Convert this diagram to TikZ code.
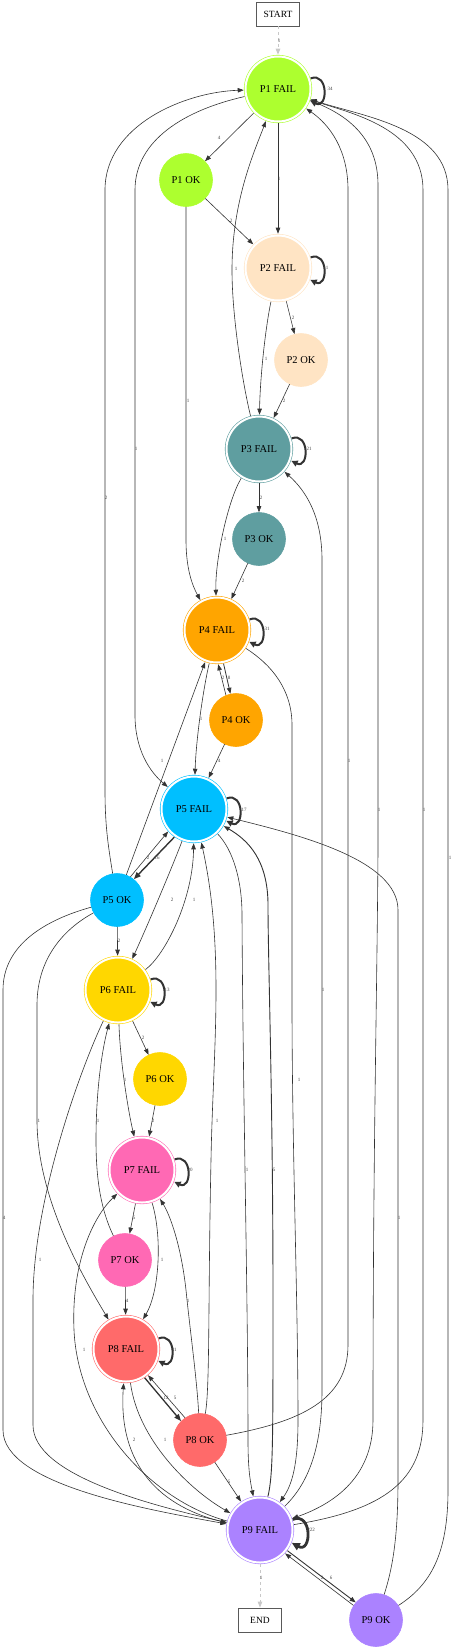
\documentclass[tikz,border=0pt]{standalone}
\usepackage{fontspec}
\setmainfont{Liberation Serif}
\usetikzlibrary{arrows.meta}
\definecolor{cpa}{HTML}{ADFF2F}
\definecolor{cpb}{HTML}{FFE4C4}
\definecolor{cpc}{HTML}{5F9EA0}
\definecolor{cpd}{HTML}{FFA500}
\definecolor{cpe}{HTML}{00BFFF}
\definecolor{cpf}{HTML}{FFD700}
\definecolor{cpg}{HTML}{FF69B4}
\definecolor{cph}{HTML}{FF6A6A}
\definecolor{cpi}{HTML}{AB82FF}
\definecolor{ecol}{HTML}{333333}
\definecolor{lcol}{HTML}{444444}
\definecolor{dcol}{HTML}{C8C8C8}
\newcommand{\mynodefont}{\fontsize{10.5}{12}\selectfont}
\newcommand{\myboxfont}{\fontsize{9.5}{11}\selectfont}
\newcommand{\mylblfont}{\fontsize{5}{6}\selectfont}
\tikzset{
  fail/.style={circle, minimum size=65pt, inner sep=0pt, outer sep=1.8pt, draw=#1, fill=#1,
    line width=0.6pt, double=white, double distance=2pt, font=\mynodefont},
  okn/.style={circle, minimum size=53pt, inner sep=0pt, draw=#1, fill=#1, line width=0.6pt, font=\mynodefont},
  term/.style={rectangle, draw=black!65, line width=0.8pt, minimum width=43pt, minimum height=24pt,
    inner sep=0pt, font=\myboxfont},
  conn/.style={draw=ecol, line width=0.6pt, -{Triangle[length=6pt,width=4.5pt]}},
  loopy/.style={draw=ecol, line width=2pt, -{Triangle[length=6.5pt,width=6pt]}},
  dashconn/.style={draw=dcol, dashed, line width=0.9pt, -{Triangle[length=6pt,width=4.5pt]}},
  lbl/.style={font=\mylblfont, text=lcol, inner sep=0.3pt},
}
\begin{document}
\begin{tikzpicture}[x=1pt,y=-1pt]
\useasboundingbox (0,0) rectangle (455,1650);

% nodes
\node[term] (start) at (278,14) {START};
\node[fail=cpa] (p1f) at (278,89) {P1 FAIL};
\node[okn=cpa] (p1o) at (186,180) {P1 OK};
\node[fail=cpb] (p2f) at (278,268) {P2 FAIL};
\node[okn=cpb] (p2o) at (301,360) {P2 OK};
\node[fail=cpc] (p3f) at (259,449) {P3 FAIL};
\node[okn=cpc] (p3o) at (259,539) {P3 OK};
\node[fail=cpd] (p4f) at (217,630) {P4 FAIL};
\node[okn=cpd] (p4o) at (236,720) {P4 OK};
\node[fail=cpe] (p5f) at (194,809) {P5 FAIL};
\node[okn=cpe] (p5o) at (117,900) {P5 OK};
\node[fail=cpf] (p6f) at (118,990) {P6 FAIL};
\node[okn=cpf] (p6o) at (160,1079) {P6 OK};
\node[fail=cpg] (p7f) at (142,1170) {P7 FAIL};
\node[okn=cpg] (p7o) at (125,1260) {P7 OK};
\node[fail=cph] (p8f) at (126,1349) {P8 FAIL};
\node[okn=cph] (p8o) at (200,1440) {P8 OK};
\node[fail=cpi] (p9f) at (260,1530) {P9 FAIL};
\node[okn=cpi] (p9o) at (376,1620) {P9 OK};
\node[term] (end) at (260,1620) {END};

% start / end
\draw[dashconn] (start) -- (p1f);
\draw[dashconn] (p9f) -- (end);

% P1
\draw[conn] (p1f) -- (p1o);
\draw[conn] (p1f) -- (p2f);
\draw[conn] (p1o) -- (p2f);
\draw[conn] (p1o) -- (186,540) .. controls (186,568) and (192,585) .. (p4f);

% P2
\draw[conn] (p2f) -- (p2o);
\draw[conn] (p2f) .. controls (265,330) and (260,380) .. (p3f);
\draw[conn] (p2o) -- (p3f);

% P3
\draw[conn] (p3f) .. controls (244,390) and (232,320) .. (232,270) .. controls (232,200) and (255,150) .. (p1f);
\draw[conn] (p3f) -- (p3o);
\draw[conn] (p3f) .. controls (228,500) and (215,560) .. (p4f);
\draw[conn] (p3o) -- (p4f);
\draw[conn] (p9f) .. controls (312,1480) and (322,1440) .. (322,1390) -- (322,560) .. controls (322,515) and (305,490) .. (p3f);

% P4
\draw[conn] (p4o.112) -- (p4f.272);
\draw[conn, line width=0.8pt] (p4f.281) -- (p4o.102);
\draw[conn] (p4f) .. controls (203,690) and (196,740) .. (p5f);
\draw[conn] (p4o) -- (p5f);
\draw[conn] (p4f) .. controls (272,665) and (292,690) .. (292,725) -- (292,1000) .. controls (292,1150) and (298,1300) .. (298,1420) .. controls (298,1465) and (292,1485) .. (p9f);

% P5
\draw[conn, line width=1.4pt, -{Triangle[length=7pt,width=5.5pt]}] (p5f.235) -- (p5o.51);
\draw[conn] (p5o.60) -- (p5f.221);
\draw[conn] (p1f) .. controls (185,110) and (135,140) .. (135,190) -- (135,715) .. controls (135,750) and (150,772) .. (p5f);
\draw[conn] (p5o) .. controls (108,845) and (105,825) .. (105,790) -- (105,190) .. controls (105,125) and (185,92) .. (p1f);
\draw[conn] (p5o) -- (p4f);
\draw[conn] (p5f) .. controls (175,860) and (150,920) .. (p6f);
\draw[conn] (p6f) .. controls (165,955) and (193,900) .. (p5f);
\draw[conn] (p5o) -- (p6f);
\draw[conn] (p5o) .. controls (45,920) and (3,945) .. (3,990) -- (3,1430) .. controls (3,1485) and (150,1510) .. (p9f);
\draw[conn] (p5o) .. controls (62,930) and (37,960) .. (37,1005) -- (37,1120) .. controls (37,1200) and (85,1280) .. (p8f);
\draw[conn] (p5f) .. controls (233,850) and (242,880) .. (242,915) .. controls (243,1100) and (248,1300) .. (248,1440) .. controls (248,1468) and (250,1480) .. (p9f);
\draw[conn, line width=0.9pt] (p9f) .. controls (273,1475) and (273,1445) .. (273,1300) .. controls (273,1100) and (268,960) .. (268,905) .. controls (268,860) and (248,840) .. (p5f);
\draw[conn] (p9o) .. controls (392,1570) and (398,1540) .. (398,1480) -- (398,910) .. controls (398,860) and (300,835) .. (p5f);
\draw[conn] (p8o) .. controls (210,1390) and (208,1300) .. (211,1160) .. controls (213,1050) and (225,950) .. (p5f);

% P6
\draw[conn] (p6f) -- (p6o);
\draw[conn] (p6f) .. controls (120,1060) and (128,1110) .. (p7f);
\draw[conn] (p6o) -- (p7f.78);
\draw[conn] (p6f) .. controls (80,1070) and (33,1200) .. (33,1300) -- (33,1425) .. controls (33,1475) and (150,1505) .. (p9f);
\draw[conn] (p7o) .. controls (101,1210) and (96,1180) .. (96,1140) .. controls (96,1090) and (102,1050) .. (p6f);

% P7
\draw[conn] (p7f) -- (p7o.80);
\draw[conn] (p7f) .. controls (162,1235) and (160,1290) .. (p8f);
\draw[conn] (p7o) -- (p8f);
\draw[conn] (p9f) .. controls (150,1500) and (78,1420) .. (74,1330) .. controls (71,1260) and (95,1215) .. (p7f);
\draw[conn] (p8o) .. controls (197,1380) and (190,1330) .. (186,1290) .. controls (181,1245) and (170,1215) .. (p7f);

% P8
\draw[conn, line width=1.3pt, -{Triangle[length=7pt,width=5.5pt]}] (p8f.303) -- (p8o.135);
\draw[conn] (p8o.124) -- (p8f.310);
\draw[conn] (p8f) .. controls (138,1440) and (190,1490) .. (p9f);
\draw[conn] (p9f) .. controls (160,1508) and (118,1465) .. (p8f);
\draw[conn] (p8o) -- (p9f);
\draw[conn] (p8o) .. controls (300,1422) and (348,1400) .. (348,1345) -- (348,190) .. controls (348,150) and (330,125) .. (p1f);

% P9 and P1 long edges
\draw[conn] (p1f) .. controls (350,115) and (378,140) .. (378,185) -- (378,850) .. controls (377,1000) and (373,1150) .. (373,1420) .. controls (373,1480) and (330,1505) .. (p9f);
\draw[conn] (p9f) .. controls (385,1510) and (423,1480) .. (423,1420) -- (423,190) .. controls (423,128) and (350,113) .. (p1f);
\draw[conn] (p9o) .. controls (430,1585) and (448,1555) .. (448,1490) -- (448,190) .. controls (448,128) and (365,117) .. (p1f);
\draw[conn, line width=0.9pt] (p9f.323) -- (p9o.139);
\draw[conn] (p9o.147) -- (p9f.317);

% self loops (drawn last)
\foreach \n in {p1f,p2f,p3f,p4f,p5f,p6f,p7f,p8f}{
  \draw[loopy] (\n.18) .. controls +(18,-7) and +(18,9) .. (\n.-20);
}
\draw[loopy, line width=2.8pt, -{Triangle[length=8pt,width=7.5pt]}] (p9f.18) .. controls +(20,-8) and +(20,11) .. (p9f.-22);

% labels
\node[lbl] (l01) at (279,41) {1};
\node[lbl] (l02) at (330,89) {34};
\node[lbl] (l03) at (219,138) {4};
\node[lbl] (l04) at (279,179) {1};
\node[lbl] (l05) at (231,221) {2};
\node[lbl] (l06) at (188,401) {1};
\node[lbl] (l07) at (326,268) {11};
\node[lbl] (l08) at (293,318) {2};
\node[lbl] (l09) at (266,359) {1};
\node[lbl] (l10) at (284,401) {2};
\node[lbl] (l11) at (236,269) {1};
\node[lbl] (l12) at (309,449) {21};
\node[lbl] (l13) at (261,498) {2};
\node[lbl] (l14) at (225,539) {1};
\node[lbl] (l15) at (243,581) {2};
\node[lbl] (l16) at (323,990) {1};
\node[lbl] (l17) at (267,629) {31};
\node[lbl] (l18) at (223,678) {2};
\node[lbl] (l19) at (229,678) {8};
\node[lbl] (l20) at (201,719) {1};
\node[lbl] (l21) at (219,761) {4};
\node[lbl] (l22) at (299,1080) {1};
\node[lbl] (l23) at (244,810) {17};
\node[lbl] (l24) at (157,858) {16};
\node[lbl] (l25) at (148,858) {2};
\node[lbl] (l26) at (136,449) {1};
\node[lbl] (l27) at (106,498) {2};
\node[lbl] (l28) at (162,761) {1};
\node[lbl] (l29) at (172,900) {2};
\node[lbl] (l30) at (194,900) {1};
\node[lbl] (l31) at (119,941) {2};
\node[lbl] (l32) at (4,1218) {4};
\node[lbl] (l33) at (39,1121) {1};
\node[lbl] (l34) at (167,990) {13};
\node[lbl] (l35) at (143,1038) {2};
\node[lbl] (l36) at (125,1080) {1};
\node[lbl] (l37) at (153,1121) {2};
\node[lbl] (l38) at (40,1260) {1};
\node[lbl] (l39) at (98,1121) {1};
\node[lbl] (l40) at (190,1170) {20};
\node[lbl] (l41) at (134,1218) {5};
\node[lbl] (l42) at (162,1260) {1};
\node[lbl] (l43) at (127,1301) {4};
\node[lbl] (l44) at (84,1350) {1};
\node[lbl] (l45) at (188,1301) {1};
\node[lbl] (l46) at (217,1121) {1};
\node[lbl] (l47) at (247,1170) {1};
\node[lbl] (l48) at (274,1170) {5};
\node[lbl] (l49) at (399,1218) {1};
\node[lbl] (l50) at (450,858) {1};
\node[lbl] (l51) at (424,810) {1};
\node[lbl] (l52) at (379,810) {1};
\node[lbl] (l53) at (349,761) {1};
\node[lbl] (l54) at (174,1350) {41};
\node[lbl] (l55) at (166,1398) {12};
\node[lbl] (l56) at (175,1398) {5};
\node[lbl] (l57) at (165,1440) {1};
\node[lbl] (l58) at (134,1440) {2};
\node[lbl] (l59) at (229,1482) {5};
\node[lbl] (l60) at (311,1530) {222};
\node[lbl] (l61) at (331,1578) {6};
\node[lbl] (l62) at (322,1578) {2};
\node[lbl] (l63) at (261,1578) {1};
\end{tikzpicture}
\end{document}
